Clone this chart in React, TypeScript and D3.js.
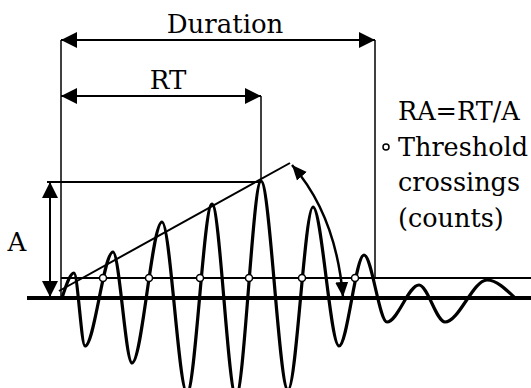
import React from "react";
import * as d3 from "d3";

// Waveform extremes (time units, amplitude units)
const waveT = [1, 13, 24, 52, 71, 101, 126, 151, 175, 200, 227, 252, 278, 303, 326, 358, 384, 426, 454];
const waveA = [0, 25, -48, 46, -65, 76, -95, 94, -98, 117, -92, 91, -48, 43, -24, 13, -24, 18, 0];
const thresholdLevel = 20;
const crossingT = [42, 88, 139, 188, 241, 294];
const riseTime = 200;
const duration = 314;
const peakAmp = 117;
const labels = { duration: "Duration", rt: "RT", amp: "A" };
const legendLines = ["RA=RT/A", "Threshold", "crossings", "(counts)"];

const W = 531, H = 388;

export default function App() {
  const x = d3.scaleLinear().domain([0, 470]).range([61, 531]);
  const y = d3.scaleLinear().domain([0, peakAmp]).range([298, 181]);
  const pts: [number, number][] = waveT.map((t, i) => [x(t), y(waveA[i])]);
  const line = d3.line().curve(d3.curveMonotoneX);
  const wavePath = line(pts) || "";

  const x0 = x(0), xR = x(riseTime), xD = x(duration);
  const yPeak = y(peakAmp), yBase = y(0), yThr = y(thresholdLevel);
  const riseStart: [number, number] = [x(-2), y(7)];
  const riseEnd: [number, number] = [x(229), y(135)];
  const arcStart: [number, number] = [riseEnd[0] + 2, riseEnd[1] + 2];
  const arcEnd: [number, number] = [x(282), yBase - 1];
  const ctrl: [number, number] = [x(275), y(83)];

  const font = "'DejaVu Serif', serif";
  return (
    <svg width={W} height={H} style={{ position: "fixed", left: 0, top: 0, background: "#fff" }}>
      <defs>
        <marker id="ah" viewBox="0 0 16 16" refX="16" refY="8" markerWidth="16" markerHeight="16"
          markerUnits="userSpaceOnUse" orient="auto-start-reverse">
          <path d="M0,0 L16,8 L0,16 Z" fill="#000" />
        </marker>
        <marker id="ah2" viewBox="0 0 16 16" refX="16" refY="8" markerWidth="15" markerHeight="15"
          markerUnits="userSpaceOnUse" orient="auto-start-reverse">
          <path d="M0,1 L16,8 L0,15 Z" fill="#000" />
        </marker>
      </defs>
      <rect width={W} height={H} fill="#fff" />
      <line x1={x(-34)} x2={W} y1={yBase} y2={yBase} stroke="#000" strokeWidth={4} />
      <line x1={x0} x2={W} y1={yThr} y2={yThr} stroke="#000" strokeWidth={2} />
      <line x1={x0} x2={x0} y1={40} y2={yBase} stroke="#000" strokeWidth={1.5} />
      <line x1={xD} x2={xD} y1={40} y2={yThr} stroke="#000" strokeWidth={1.5} />
      <line x1={xR} x2={xR} y1={96} y2={yPeak} stroke="#000" strokeWidth={1.5} />
      <line x1={x0} x2={xD} y1={40} y2={40} stroke="#000" strokeWidth={2} markerStart="url(#ah)" markerEnd="url(#ah)" />
      <line x1={x0} x2={xR} y1={96} y2={96} stroke="#000" strokeWidth={2} markerStart="url(#ah)" markerEnd="url(#ah)" />
      <line x1={47} x2={xR} y1={yPeak + 1} y2={yPeak + 1} stroke="#000" strokeWidth={2} />
      <line x1={50} x2={50} y1={yPeak + 1} y2={yBase - 1} stroke="#000" strokeWidth={2} markerStart="url(#ah)" markerEnd="url(#ah)" />
      <line x1={riseStart[0]} y1={riseStart[1]} x2={riseEnd[0]} y2={riseEnd[1]} stroke="#000" strokeWidth={2} />
      <path d={`M${arcStart[0]},${arcStart[1]} Q${ctrl[0]},${ctrl[1]} ${arcEnd[0]},${arcEnd[1]}`} fill="none" stroke="#000" strokeWidth={2.5}
        markerStart="url(#ah2)" markerEnd="url(#ah2)" />
      <path d={wavePath} fill="none" stroke="#000" strokeWidth={3.2} />
      {crossingT.map((t, i) => (
        <circle key={i} cx={x(t)} cy={yThr} r={3.5} fill="#fff" stroke="#000" strokeWidth={1.5} />
      ))}
      <text x={225} y={33} fontFamily={font} fontSize={26} textAnchor="middle">{labels.duration}</text>
      <text x={168} y={89} fontFamily={font} fontSize={26} textAnchor="middle">{labels.rt}</text>
      <text x={17} y={251} fontFamily={font} fontSize={26} textAnchor="middle">{labels.amp}</text>
      {legendLines.map((s, i) => (
        <text key={i} x={398} y={120 + i * 35.5} fontFamily={font} fontSize={25.5}>{s}</text>
      ))}
      <circle cx={386} cy={147} r={3} fill="#fff" stroke="#000" strokeWidth={1.5} />
    </svg>
  );
}
